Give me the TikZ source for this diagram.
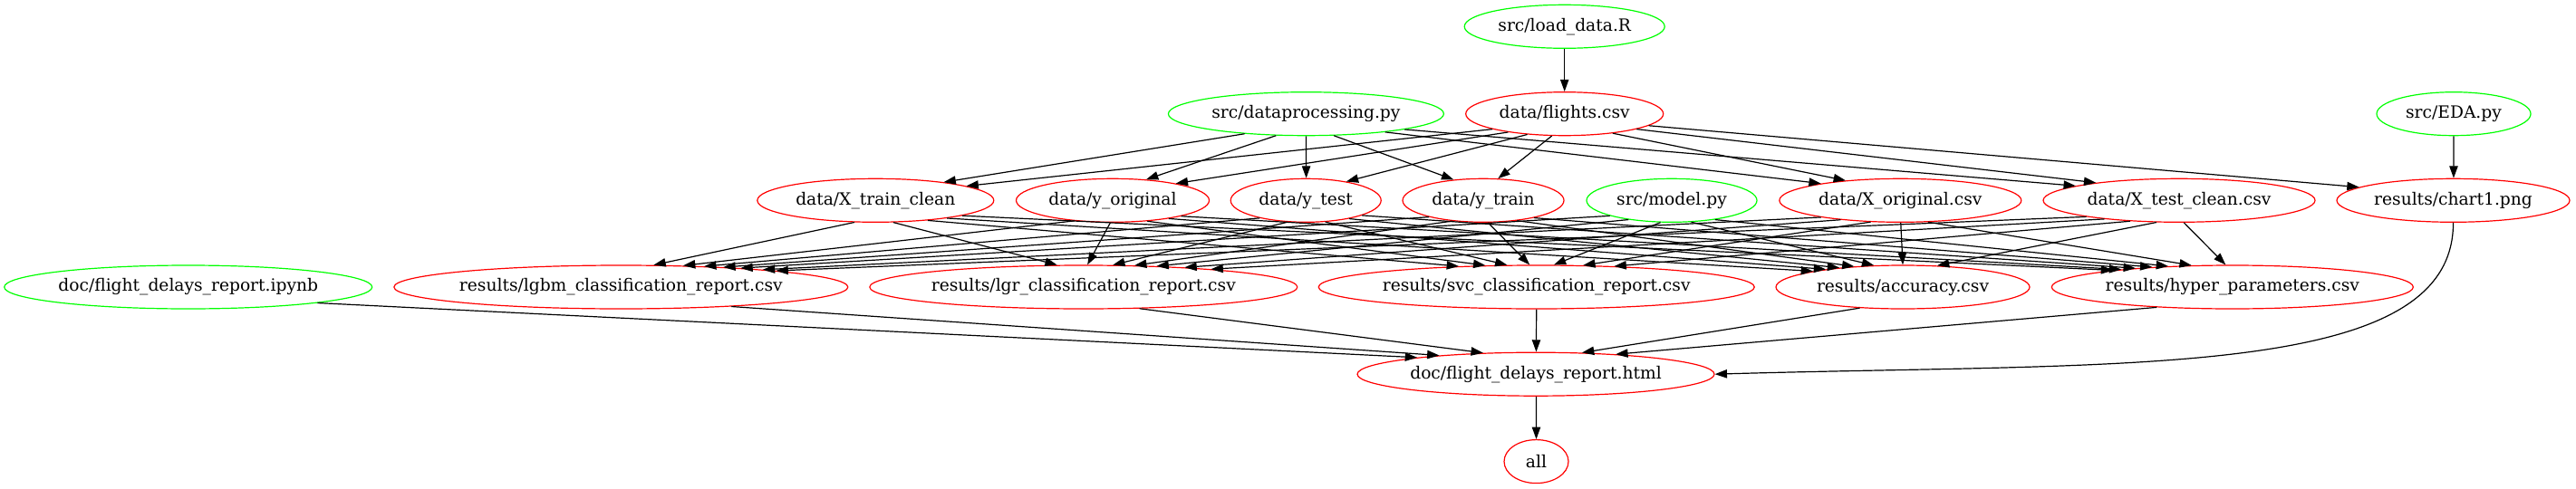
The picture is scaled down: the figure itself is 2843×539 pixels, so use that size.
\documentclass[tikz,border=0pt]{standalone}
\usepackage{fontspec}
\setmainfont{DejaVu Serif}
\usetikzlibrary{shapes.geometric,arrows.meta}
\definecolor{gvgreen}{RGB}{0,255,0}
\definecolor{gvred}{RGB}{255,0,0}
% \dedge{ks}{kt}{source}{target}: straight edge, leaving/arriving on the ellipses
\newcommand\dedge[4]{%
  \pgfpointanchor{#3}{center}\pgfgetlastxy\edax\eday
  \pgfpointanchor{#4}{center}\pgfgetlastxy\edbx\edby
  \pgfmathsetmacro\edangA{atan2(#1*(\edby-\eday),\edbx-\edax)}%
  \pgfmathsetmacro\edangB{atan2(#2*(\eday-\edby),\edax-\edbx)}%
  \draw[edge] (#3.\edangA) -- (#4.\edangB);}
\begin{document}
\begin{tikzpicture}[x=0.75pt,y=-0.75pt,
  nd/.style={ellipse, draw, line width=0.9pt, inner sep=0pt, minimum height=36pt,
    font=\fontsize{14}{16}\selectfont},
  srcnode/.style={nd, draw=gvgreen},
  tgtnode/.style={nd, draw=gvred},
  wd/.style={minimum width=#1*0.75pt},
  edge/.style={draw=black, line width=0.9pt, -{Triangle[length=10pt,width=7pt]}}]
\useasboundingbox (0,0) rectangle (2843,539);
% level 1
\node[srcnode, wd=221] (load) at (1726.7,29.3) {\makebox[0pt]{src/load\_data.R}};
% level 2
\node[srcnode, wd=304] (dproc) at (1441.4,125.7) {\makebox[0pt]{src/dataprocessing.py}};
\node[tgtnode, wd=218] (flights) at (1726.7,125.7) {\makebox[0pt]{data/flights.csv}};
\node[srcnode, wd=170] (eda) at (2708,125.7) {\makebox[0pt]{src/EDA.py}};
% level 3
\node[tgtnode, wd=261] (xtr) at (966.3,221.3) {\makebox[0pt]{data/X\_train\_clean}};
\node[tgtnode, wd=213] (yorig) at (1228,221.3) {\makebox[0pt]{data/y\_original}};
\node[tgtnode, wd=166] (ytest) at (1441.2,221.3) {\makebox[0pt]{data/y\_test}};
\node[tgtnode, wd=178] (ytrain) at (1637,221.3) {\makebox[0pt]{data/y\_train}};
\node[srcnode, wd=188] (model) at (1845,221.3) {\makebox[0pt]{src/model.py}};
\node[tgtnode, wd=267] (xorig) at (2097.3,221.3) {\makebox[0pt]{data/X\_original.csv}};
\node[tgtnode, wd=300] (xtc) at (2405,221.3) {\makebox[0pt]{data/X\_test\_clean.csv}};
\node[tgtnode, wd=257] (chart) at (2707.5,221.3) {\makebox[0pt]{results/chart1.png}};
% level 4
\node[srcnode, wd=406] (ipynb) at (207.7,317) {\makebox[0pt]{doc/flight\_delays\_report.ipynb}};
\node[tgtnode, wd=501] (lgbm) at (685.3,317) {\makebox[0pt]{results/lgbm\_classification\_report.csv}};
\node[tgtnode, wd=472] (lgr) at (1195.8,317) {\makebox[0pt]{results/lgr\_classification\_report.csv}};
\node[tgtnode, wd=481] (svc) at (1695.7,317) {\makebox[0pt]{results/svc\_classification\_report.csv}};
\node[tgtnode, wd=280] (acc) at (2100,317) {\makebox[0pt]{results/accuracy.csv}};
\node[tgtnode, wd=399] (hyper) at (2463.8,317) {\makebox[0pt]{results/hyper\_parameters.csv}};
% level 5
\node[tgtnode, wd=394] (html) at (1695,413.2) {\makebox[0pt]{doc/flight\_delays\_report.html}};
% level 6
\node[tgtnode, wd=71] (all) at (1695.5,509.6) {\makebox[0pt]{all}};
% edges
\dedge{1}{1}{load}{flights}
\dedge{1}{1}{eda}{chart}
\foreach \t in {xtr,yorig,ytest,ytrain,xorig,xtc,chart} {\dedge{1.6}{1.4}{flights}{\t}}
\foreach \t in {xtr,yorig,ytest,ytrain,xorig,xtc} {\dedge{1.6}{1.4}{dproc}{\t}}
\foreach \s in {xtr,yorig,ytest,ytrain,model,xorig,xtc} {
  \foreach \t in {lgbm,lgr,svc,acc,hyper} {\dedge{3}{2}{\s}{\t}}}
\foreach \s in {ipynb,lgbm,lgr,svc,acc,hyper} {\dedge{2}{2}{\s}{html}}
\draw[edge] (chart.south) .. controls (2708,420) and (2350,400) .. (html.east);
\dedge{1}{1}{html}{all}
\end{tikzpicture}
\end{document}
